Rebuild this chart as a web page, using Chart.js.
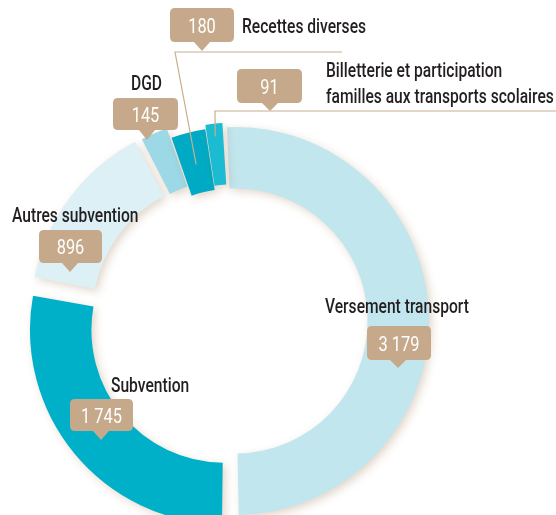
<!DOCTYPE html>
<html lang="fr">
<head>
<meta charset="utf-8">
<title>Recettes</title>
<script src="https://cdn.jsdelivr.net/npm/chart.js@4.4.1/dist/chart.umd.min.js"></script>
<style>
  html, body { margin: 0; padding: 0; background: #ffffff; }
  #wrap { position: relative; width: 556px; height: 515px; overflow: hidden; }
</style>
</head>
<body>
<div id="wrap"><canvas id="ring" width="556" height="515"></canvas></div>
<script>
// data (montants)
const categories = [
  'Versement transport',
  'Subvention',
  'Autres subvention',
  'DGD',
  'Recettes diverses',
  'Billetterie et participation familles aux transports scolaires'
];
const amounts = [3179, 1745, 896, 145, 180, 91];
const sliceColors = ['#c1e6ee', '#00afc8', '#dcf0f6', '#9dd8e6', '#00aac4', '#1bbcd2'];
const sliceOffsets = [0, 56, 40, 22, 0, 9];

const TAN = '#c5a98a';
const INK = '#231f20';
const SQUEEZE = 0.78;

// where the designer put the captions (styling only, no values)
const captions = [
  { i: 0, lines: [['Versement transport', 325, 313]], box: [367, 326, 64, 34], tip: [398, 368] },
  { i: 1, lines: [['Subvention', 111, 392]], box: [70, 399, 63, 32], tip: [101, 440] },
  { i: 2, lines: [['Autres subvention', 12, 222]], box: [39, 230, 63, 33], tip: [70, 272] },
  { i: 3, lines: [['DGD', 131, 90]], box: [113, 98, 65, 32], tip: [147, 140] },
  { i: 4, lines: [['Recettes diverses', 242, 33]], box: [170, 8, 64, 34], tip: [202, 51],
    leader: { corner: [175, 52], tail: [342, 52], depth: 0.5 } },
  { i: 5, lines: [['Billetterie et participation', 326, 77], ['familles aux transports scolaires', 326, 103]],
    box: [237, 69, 65, 34], tip: [270, 111],
    leader: { corner: [215, 111], tail: [556, 111], depth: 0.9 } }
];

function fmt(v) {
  return String(v).replace(/\B(?=(\d{3})+(?!\d))/g, ' ');
}

function squeezedText(ctx, str, x, y, size, color, align, weight) {
  ctx.save();
  ctx.font = (weight || 400) + ' ' + size + 'px Roboto, "Open Sans", sans-serif';
  ctx.fillStyle = color;
  ctx.textBaseline = 'alphabetic';
  ctx.textAlign = 'left';
  const w = ctx.measureText(str).width * SQUEEZE;
  const x0 = align === 'center' ? x - w / 2 : x;
  ctx.translate(x0, y);
  ctx.scale(SQUEEZE, 1);
  ctx.fillText(str, 0, 0);
  ctx.restore();
}

function calloutBox(ctx, box, tip, label) {
  const [x, y, w, h] = box;
  const r = 5;
  ctx.save();
  ctx.fillStyle = TAN;
  ctx.beginPath();
  ctx.moveTo(x + r, y);
  ctx.lineTo(x + w - r, y);
  ctx.quadraticCurveTo(x + w, y, x + w, y + r);
  ctx.lineTo(x + w, y + h - r);
  ctx.quadraticCurveTo(x + w, y + h, x + w - r, y + h);
  ctx.lineTo(tip[0] + 8, y + h);
  ctx.lineTo(tip[0], tip[1]);
  ctx.lineTo(tip[0] - 8, y + h);
  ctx.lineTo(x + r, y + h);
  ctx.quadraticCurveTo(x, y + h, x, y + h - r);
  ctx.lineTo(x, y + r);
  ctx.quadraticCurveTo(x, y, x + r, y);
  ctx.closePath();
  ctx.fill();
  ctx.restore();
  squeezedText(ctx, label, x + w / 2, y + h / 2 + 7.5, 21, '#ffffff', 'center', 400);
}

const ringShadow = {
  id: 'ringShadow',
  beforeDatasetsDraw(chart) {
    const ctx = chart.ctx;
    ctx.save();
    ctx.shadowColor = 'rgba(150, 112, 70, 0.28)';
    ctx.shadowBlur = 8;
    ctx.shadowOffsetX = 3;
    ctx.shadowOffsetY = 3;
  },
  afterDatasetsDraw(chart) {
    chart.ctx.restore();
  }
};

const captionPlugin = {
  id: 'captions',
  afterDraw(chart) {
    const ctx = chart.ctx;
    const arcs = chart.getDatasetMeta(0).data;
    captions.forEach((c) => {
      if (c.leader) {
        const a = arcs[c.i].getProps(['x', 'y', 'startAngle', 'endAngle', 'innerRadius', 'outerRadius'], true);
        const mid = (a.startAngle + a.endAngle) / 2;
        const rad = a.innerRadius + (a.outerRadius - a.innerRadius) * c.leader.depth;
        const ex = a.x + Math.cos(mid) * rad;
        const ey = a.y + Math.sin(mid) * rad;
        ctx.save();
        ctx.strokeStyle = '#c9ae90';
        ctx.lineWidth = 1.2;
        ctx.beginPath();
        ctx.moveTo(c.leader.tail[0], c.leader.tail[1]);
        ctx.lineTo(c.leader.corner[0], c.leader.corner[1]);
        ctx.lineTo(ex, ey);
        ctx.stroke();
        ctx.restore();
      }
      c.lines.forEach(([t, x, y]) => squeezedText(ctx, t, x, y, 20, INK, 'left', 500));
      calloutBox(ctx, c.box, c.tip, fmt(amounts[c.i]));
    });
  }
};

new Chart(document.getElementById('ring'), {
  type: 'doughnut',
  data: {
    labels: categories,
    datasets: [{
      data: amounts,
      backgroundColor: sliceColors,
      offset: sliceOffsets,
      borderWidth: 0,
      spacing: 4,
      clip: false
    }]
  },
  options: {
    responsive: false,
    animation: false,
    devicePixelRatio: 1,
    rotation: -3.5,
    radius: 192,
    cutout: '68%',
    layout: { padding: { top: 127, bottom: 0, left: 0, right: 86 } },
    plugins: {
      legend: { display: false },
      tooltip: { enabled: false }
    }
  },
  plugins: [ringShadow, captionPlugin]
});
</script>
</body>
</html>
